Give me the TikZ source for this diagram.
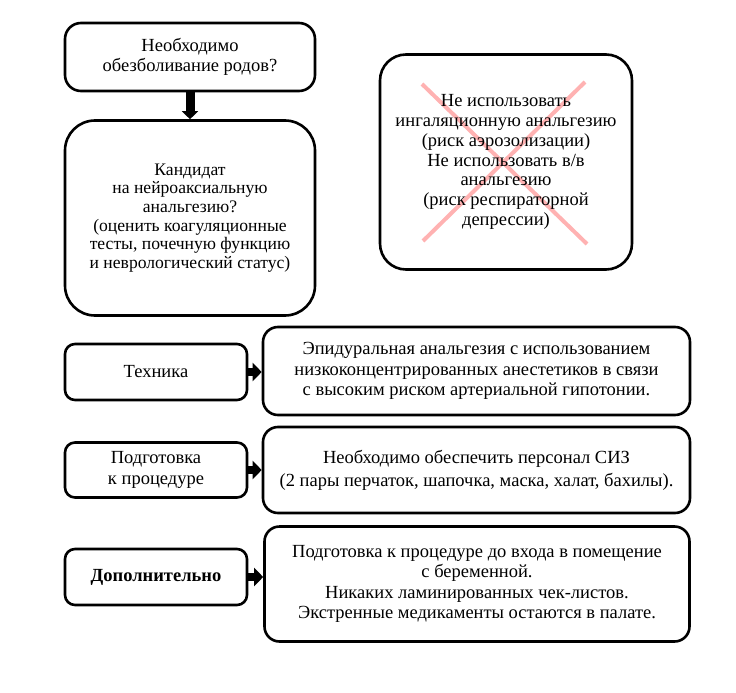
\documentclass[tikz,border=0pt]{standalone}
\usepackage{fontspec}
\setmainfont{Liberation Serif}
\usetikzlibrary{arrows.meta}

\begin{document}
\begin{tikzpicture}[x=1pt, y=-1pt,
    box/.style={draw, line width=2.6pt, align=center, inner sep=0pt,
      font=\fontsize{18.5}{20.5}\selectfont},
    bigarrow/.style={line width=8pt, -{Triangle[length=9pt, width=18pt]}}]
			\useasboundingbox (0,0) rectangle (736,693);
			% crossed out
			\draw [red!30, line width=4pt] (422,84) -- (587,244) (585,82) -- (423,241);
			\node [box, rounded corners=16pt, minimum width=250pt, minimum height=68pt] (need) at (190,57) {Необходимо\\обезболивание родов?};
			\node [box, rounded corners=30pt, minimum width=250pt, minimum height=195pt, font=\fontsize{17.6}{18.6}\selectfont] (cand) at (190,218) {Кандидат\\на нейроаксиальную\\анальгезию?\\(оценить коагуляционные\\тесты, почечную функцию\\и неврологический статус)};
			\node [box, rounded corners=26pt, minimum width=252pt, minimum height=215pt, font=\fontsize{18.5}{19.8}\selectfont] (nouse) at (506,162) {Не использовать\\ингаляционную анальгезию\\(риск аэрозолизации)\\Не использовать в/в\\анальгезию\\(риск респираторной\\депрессии)};
			\draw [line width=9pt, -{Triangle[length=8pt, width=16pt]}] (need) -- (cand);
			% rows
			\node [box, rounded corners=10pt, minimum width=182pt, minimum height=56pt] (tech) at (156,372) {Техника};
			\node [box, rounded corners=15pt, minimum width=427pt, minimum height=88pt] (techR) at (476.5,371) {Эпидуральная анальгезия с использованием\\низкоконцентрированных анестетиков в связи\\с высоким риском артериальной гипотонии.};
			\node [box, rounded corners=10pt, minimum width=182pt, minimum height=55pt] (prep) at (156,470) {Подготовка\\к процедуре};
			\node [box, rounded corners=15pt, minimum width=427pt, minimum height=86pt, font=\fontsize{18.5}{23}\selectfont] (prepR) at (476.5,470) {Необходимо обеспечить персонал СИЗ\\(2 пары перчаток, шапочка, маска, халат, бахилы).};
			\node [box, rounded corners=10pt, minimum width=182pt, minimum height=56pt, font=\fontsize{18.5}{20.5}\selectfont\bfseries] (extra) at (156,577) {Дополнительно};
			\node [box, rounded corners=15pt, minimum width=425pt, minimum height=115pt] (extraR) at (477,584) {Подготовка к процедуре до входа в помещение\\с беременной.\\Никаких ламинированных чек-листов.\\Экстренные медикаменты остаются в палате.};
			\draw [bigarrow] (tech) -- (tech -| techR.west);
			\draw [bigarrow] (prep) -- (prep -| prepR.west);
			\draw [bigarrow] (extra) -- (extra -| extraR.west);
		\end{tikzpicture}
\end{document}
